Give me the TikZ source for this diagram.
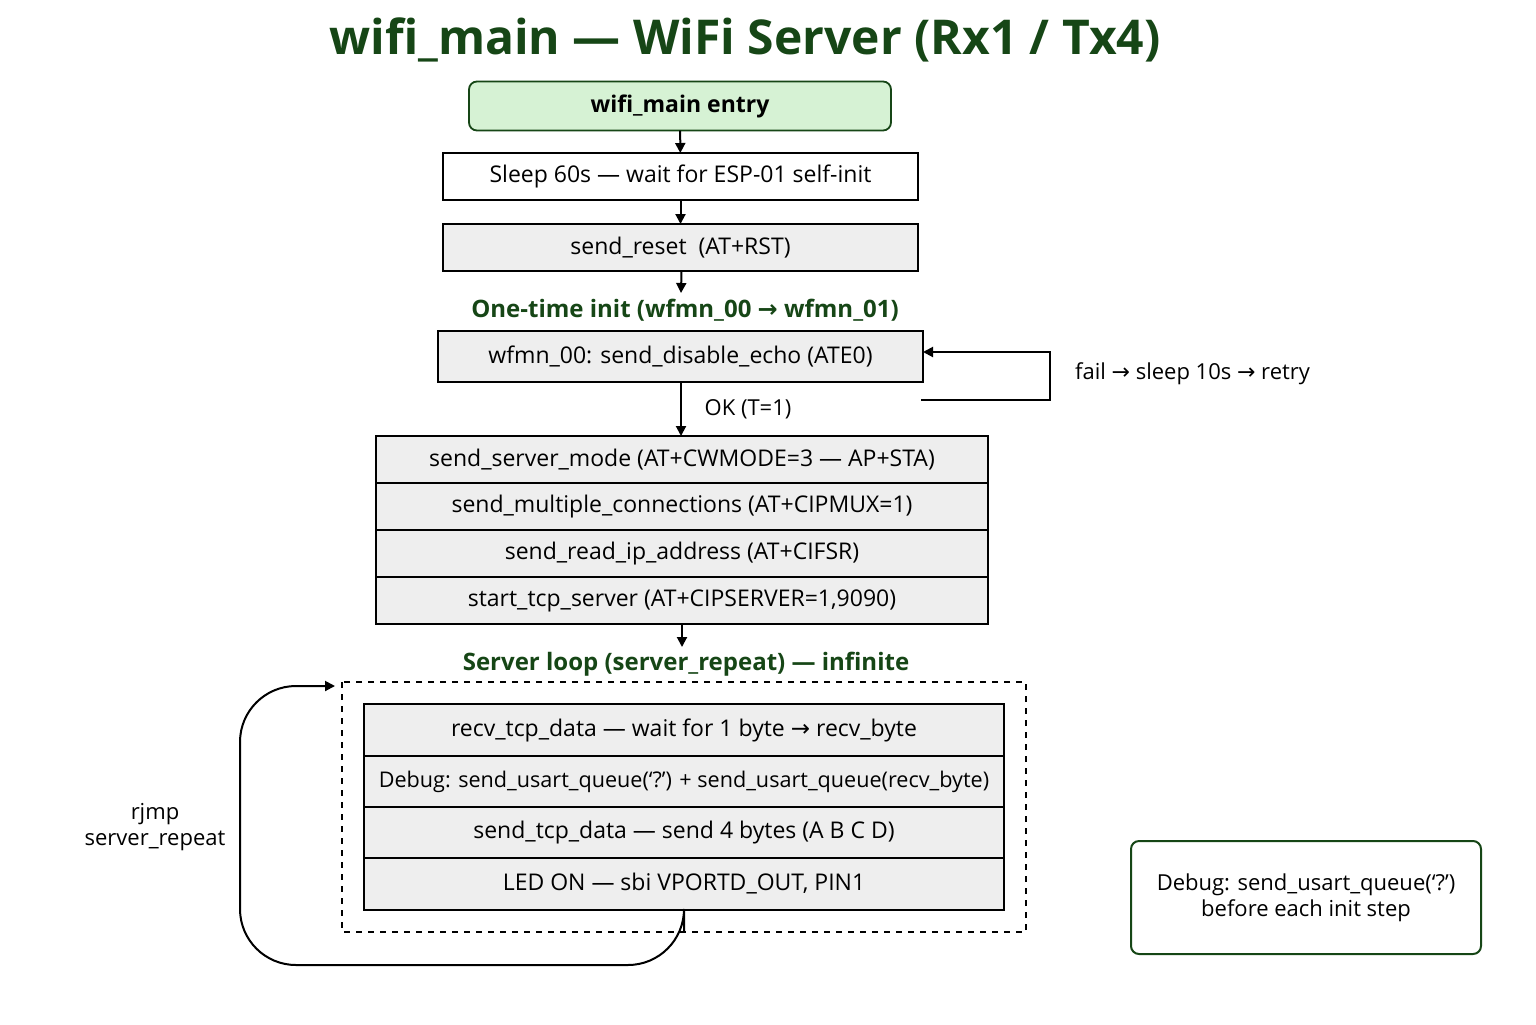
\documentclass[tikz,border=0pt]{standalone}
\usepackage{fontspec}
\setmainfont{Open Sans}
\newfontfamily\symfont{DejaVu Sans}
\newcommand{\ar}{{\symfont →}}
\usetikzlibrary{positioning,arrows.meta}
\definecolor{titlegreen}{RGB}{22,70,22}
\definecolor{entryfill}{RGB}{214,242,212}
\definecolor{rowfill}{RGB}{238,238,238}
\tikzset{
  box/.style={draw, line width=0.9pt, fill=rowfill, minimum height=23.5pt, inner sep=0pt, outer sep=0pt, font=\fontsize{11.5}{13}\selectfont},
  flow/.style={-{Triangle[length=5pt,width=5pt]}, line width=1pt},
  grouplabel/.style={text=titlegreen, font=\fontsize{12}{13}\selectfont\bfseries},
  plain/.style={font=\fontsize{11}{13}\selectfont}
}
\begin{document}
\begin{tikzpicture}[x=0.5pt,y=0.5pt,yscale=-1]
\useasboundingbox (0,0) rectangle (1536,1024);
\fill[white] (0,0) rectangle (1536,1024);

\node[text=titlegreen, font=\fontsize{24}{28}\selectfont\bfseries] (title) at (745,40) {wifi\_main — WiFi Server (Rx1 / Tx4)};

\node[box, fill=entryfill, draw=titlegreen, rounded corners=4pt, minimum width=211pt, minimum height=24.5pt] (entry) at (680,106) {\bfseries wifi\_main entry};
\node[box, fill=white, minimum width=237.5pt] (sleep) at (680.5,176.5) {Sleep 60s — wait for ESP-01 self-init};
\node[box, minimum width=237.5pt] (reset) at (680.5,247.5) {send\_reset\ \ (AT+RST)};
\node[grouplabel] (initlbl) at (685,310) {One-time init (wfmn\_00 \ar\ wfmn\_01)};
\node[box, minimum width=242.5pt, minimum height=25.5pt] (echo) at (680.5,356.5) {wfmn\_00: send\_disable\_echo (ATE0)};

% init stack
\node[box, minimum width=306pt] (mode) at (682,459.5) {send\_server\_mode (AT+CWMODE=3 — AP+STA)};
\node[box, minimum width=306pt, below=0pt of mode] (mux) {send\_multiple\_connections (AT+CIPMUX=1)};
\node[box, minimum width=306pt, below=0pt of mux] (ip) {send\_read\_ip\_address (AT+CIFSR)};
\node[box, minimum width=306pt, below=0pt of ip] (tcp) {start\_tcp\_server (AT+CIPSERVER=1,9090)};

\node[grouplabel] (looplbl) at (686,664) {Server loop (server\_repeat) — infinite};
\draw[dashed, line width=0.9pt] (342,682) rectangle (1026,932);
\coordinate (loopin) at (335,686);
\coordinate (loopout) at (684,932);

% loop body
\node[box, minimum width=320pt, minimum height=26pt] (recv) at (684,730) {recv\_tcp\_data — wait for 1 byte \ar\ recv\_byte};
\node[box, minimum width=320pt, minimum height=25.5pt, below=0pt of recv, font=\fontsize{10.8}{13}\selectfont] (dbg) {Debug: send\_usart\_queue(‘?’) + send\_usart\_queue(recv\_byte)};
\node[box, minimum width=320pt, minimum height=25.5pt, below=0pt of dbg] (send) {send\_tcp\_data — send 4 bytes (A B C D)};
\node[box, minimum width=320pt, minimum height=26pt, below=0pt of send] (led) {LED ON — sbi VPORTD\_OUT, PIN1};

\node[draw=titlegreen, line width=1pt, rounded corners=4pt, minimum width=175pt, minimum height=56.5pt, align=center, plain] (note) at (1306,897.5) {Debug: send\_usart\_queue(‘?’)\\before each init step};

% connectors
\draw[flow] (entry) -- (sleep);
\draw[flow] (sleep) -- (reset);
\draw[flow] (reset.south) ++(1,0) -- (681,293);
\draw[flow] (681,382) -- (681,436) node[midway, right=8pt, plain] {OK (T=1)};
\draw[flow] (tcp.south) -- (682,647);
\draw[flow] (921,400) -- (1050,400) -- (1050,352) -- (echo.east |- 0,352);
\node[plain, right] (faillbl) at (1068,374) {fail \ar\ sleep 10s \ar\ retry};
\draw[flow, rounded corners=28pt] (loopout) -- (684,965) -- (240,965) -- (240,686) -- (loopin);
\node[plain, align=center] (rjmp) at (155,827) {rjmp\\server\_repeat};
\end{tikzpicture}
\end{document}
